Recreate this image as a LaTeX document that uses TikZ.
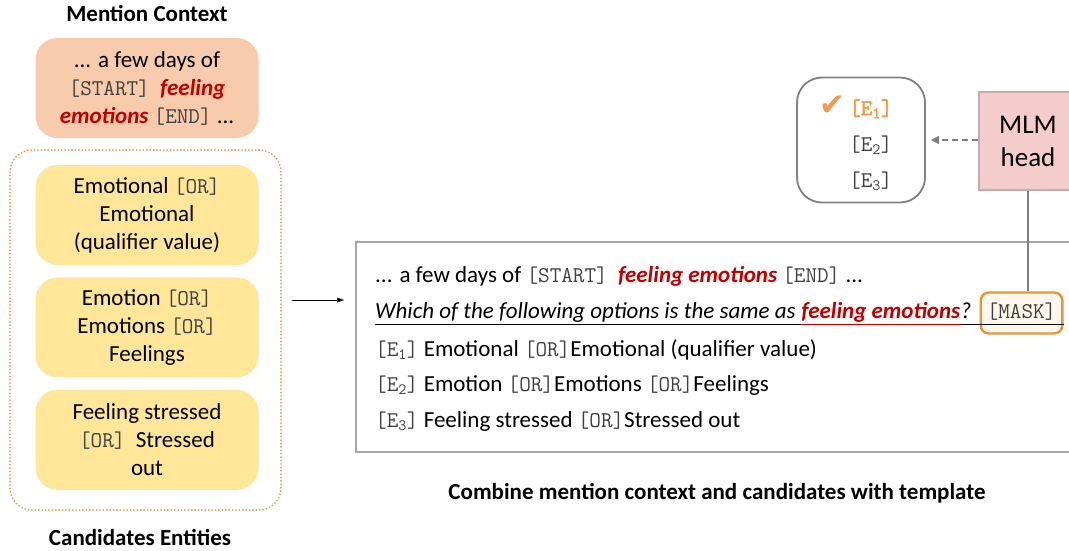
\documentclass[tikz,border=0pt]{standalone}
\usepackage{fontspec}
\setmainfont{Carlito}
\setmonofont[AutoFakeBold=2.5]{Latin Modern Mono}
\newfontfamily\symfont{DejaVu Sans}
\usetikzlibrary{positioning,arrows.meta}
\definecolor{peach}{HTML}{F8CBAD}
\definecolor{gold}{HTML}{FFE699}
\definecolor{dotorange}{HTML}{F29A55}
\definecolor{mentred}{HTML}{C00000}
\definecolor{pickorange}{HTML}{F39B4C}
\definecolor{maskorange}{HTML}{E8953A}
\definecolor{maskfill}{HTML}{FFF7EA}
\definecolor{headpink}{HTML}{F4CCCC}
\definecolor{headedge}{HTML}{C9A9A9}
\definecolor{framegray}{HTML}{A6A6A6}
\definecolor{tokgray}{HTML}{404040}
\newcommand{\tok}[1]{{\fontsize{22.5}{28}\selectfont\ttfamily\color{tokgray}#1}}
\newcommand{\ent}[1]{\tok{[E\textsubscript{#1}]}}
\newcommand{\hl}[1]{\textcolor{mentred}{\bfseries\itshape #1}}

\begin{document}
\begin{tikzpicture}
    [
      x=1pt, y=-1pt,
      every node/.style={font=\fontsize{23}{28}\selectfont},
      heading/.style={font=\fontsize{23}{28}\selectfont\bfseries},
      card/.style={rounded corners=22pt, minimum width=223pt, minimum height=100pt,
        align=center, inner sep=0pt},
      txtline/.style={anchor=base west, inner sep=0pt},
      node distance=12pt
    ]
    \clip (0,0) rectangle (1069,550);
    \node [heading] (mctx) at (147,13) {Mention Context};
    \node [card, fill=peach] (mention) at (147,88)
      {... a few days of\\\tok{[START]}\ \ \hl{feeling}\\\hl{emotions} \tok{[END]} ...};
    \node [draw=dotorange, line width=2pt, dash pattern=on 0pt off 3.4pt, line cap=round,
      rounded corners=22pt, minimum width=271pt, minimum height=360pt] (cands) at (145.5,330) {};
    \node [card, fill=gold] (c1) at (147,215)
      {Emotional \tok{[OR]}\\Emotional\\(qualifier value)};
    \node [card, fill=gold, below=12pt of c1] (c2)
      {Emotion \tok{[OR]}\\Emotions \tok{[OR]}\\Feelings};
    \node [card, fill=gold, below=12pt of c2] (c3)
      {Feeling stressed\\\tok{[OR]}\ \ Stressed\\out};
    \node [heading] (cents) at (140,537) {Candidates Entities};

    \node [draw=framegray, line width=1.5pt, minimum width=744pt, minimum height=210pt] (tmpl) at (728,347) {};
    \coordinate (arrowstart) at (292,300);
    \draw [-{Latex[length=7pt,width=5pt]}, shorten >=11pt] (arrowstart) -- (arrowstart -| tmpl.west);

    \node [txtline] (l1) at (375,282) {... a few days of \tok{[START]}\ \ \hl{feeling emotions} \tok{[END]} ...};
    \node [txtline] (q) at (375,318) {\itshape Which of the following options is the same as};
    \node [txtline] (fe) at ([xshift=5.2pt]q.base east) {\hl{feeling emotions}};
    \node [txtline] (qm) at (fe.base east) {\itshape ?};
    \node [anchor=base west, draw=maskorange, line width=2.4pt, fill=maskfill, rounded corners=8pt,
      inner xsep=6pt, inner ysep=10.5pt, text height=15pt, text depth=5pt]
      (mask) at ([xshift=8pt]qm.base east) {\tok{[MASK]}};
    \draw ([yshift=-6pt]q.base west) -- ([yshift=-6pt]fe.base west);
    \draw [mentred] ([yshift=-6pt]fe.base west) -- ([yshift=-6pt]fe.base east);
    \draw ([yshift=-6pt]fe.base east) -- ([yshift=-6pt]fe.base east -| mask.east);
    \node [txtline] (l3) at (375,356) {\ent1 Emotional \tok{[OR]}Emotional (qualifier value)};
    \node [txtline] (l4) at (375,391) {\ent2 Emotion \tok{[OR]}Emotions \tok{[OR]}Feelings};
    \node [txtline] (l5) at (375,427) {\ent3 Feeling stressed \tok{[OR]}Stressed out};
    \node [heading] (combine) at (717,493) {Combine mention context and candidates with template};

    \node [draw=headedge, line width=1.2pt, fill=headpink, minimum width=98pt, minimum height=98pt,
      align=center, font=\fontsize{27}{33}\selectfont] (mlm) at (1028,141) {MLM\\head};
    \draw [gray, line width=1.2pt] (mlm.south) -- (mlm.south |- mask.north);
    \node [draw=gray, line width=1.8pt, fill=white, rounded corners=25pt,
      minimum width=128pt, minimum height=125pt] (out) at (861,140) {};
    \node [align=right, font=\fontsize{22.5}{36}\selectfont] (picks) at (856,143)
      {{\symfont\fontsize{31}{36}\selectfont\color{pickorange}✔}\,{\bfseries\ttfamily\color{pickorange}[E\textsubscript{1}]}\\\ent2\\\ent3};
    \draw [gray, line width=1.3pt, dash pattern=on 6pt off 4pt, -{Triangle[length=8pt,width=8pt]}, shorten >=5pt]
      (mlm.west |- out.east) -- (out.east);
  \end{tikzpicture}
\end{document}
